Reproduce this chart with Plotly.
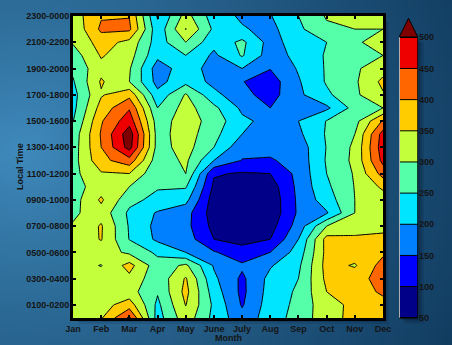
import base64, struct, zlib, math
import plotly.graph_objects as go

# ---------------- data ----------------
months = ["Jan", "Feb", "Mar", "Apr", "May", "June", "July", "Aug", "Sep", "Oct", "Nov", "Dec"]
hour_bins = ["%02d00-%02d00" % (h, (h + 1) % 24) for h in range(24)]
tick_hours = list(range(1, 24, 2))
tick_text = [hour_bins[h] for h in tick_hours]
levels = list(range(50, 501, 50))
cb_ticks = levels

# values per month, hours 0000-0100 ... 2300-0000
jan = [320, 320, 320, 320, 320, 320, 315, 305, 290, 278, 280, 285, 280, 275, 270, 248, 235, 232, 245, 260, 275, 305, 310, 325]
feb = [345, 330, 325, 320, 298, 325, 353, 355, 330, 358, 325, 345, 385, 400, 405, 395, 370, 345, 356, 335, 355, 372, 410, 395]
mar = [460, 375, 320, 338, 368, 290, 248, 245, 240, 265, 300, 350, 430, 520, 530, 480, 445, 385, 300, 305, 320, 335, 410, 398]
apr = [228, 238, 255, 265, 270, 240, 190, 185, 195, 235, 255, 258, 270, 280, 280, 275, 250, 215, 182, 175, 212, 225, 215, 195]
may = [330, 352, 365, 355, 310, 200, 175, 165, 170, 215, 255, 300, 310, 320, 325, 325, 320, 305, 235, 225, 250, 300, 352, 320]
jun = [235, 240, 225, 210, 195, 155, 100, 85, 75, 75, 90, 105, 200, 250, 265, 280, 262, 215, 185, 180, 190, 215, 240, 225]
jul = [168, 145, 138, 140, 158, 118, 85, 62, 55, 55, 60, 95, 148, 165, 200, 210, 190, 165, 152, 200, 255, 262, 205, 192]
aug = [225, 225, 220, 215, 195, 150, 100, 80, 65, 65, 75, 100, 145, 165, 180, 185, 150, 130, 125, 152, 175, 180, 185, 197]
sep = [270, 262, 258, 250, 240, 222, 200, 172, 158, 160, 163, 165, 168, 172, 190, 200, 195, 190, 195, 205, 215, 225, 240, 250]
oct_ = [330, 335, 350, 362, 368, 365, 368, 300, 195, 225, 240, 250, 255, 252, 255, 252, 190, 240, 255, 255, 255, 250, 290, 305]
nov = [365, 360, 370, 378, 345, 375, 360, 325, 300, 300, 302, 305, 312, 310, 300, 282, 268, 290, 292, 292, 285, 292, 300, 312]
dec = [370, 380, 410, 422, 420, 390, 368, 330, 310, 325, 360, 420, 465, 478, 470, 405, 300, 345, 362, 330, 300, 322, 300, 318]

columns = [jan, feb, mar, apr, may, jun, jul, aug, sep, oct_, nov, dec]
z = [list(row) for row in zip(*columns)]  # rows = hours, cols = months

band_colors = ["#000088", "#000088", "#0000ff", "#0080ff", "#00e5ff", "#55ffaa",
               "#c4ff3c", "#ffcc00", "#ff6600", "#ee0000", "#800000"]
colorscale = [[i / (len(band_colors) - 1), c] for i, c in enumerate(band_colors)]

W, H = 452, 345


def px_x(p):
    return p / W


def px_y(p):
    return 1 - p / H


# ---------------- background gradient ----------------
def make_png(w, h, fn):
    raw = bytearray()
    for j in range(h):
        raw.append(0)
        for i in range(w):
            raw.extend(fn(i, j))
    def chunk(tag, data):
        c = struct.pack('>I', len(data)) + tag + data
        return c + struct.pack('>I', zlib.crc32(tag + data) & 0xffffffff)
    png = (b'\x89PNG\r\n\x1a\n'
           + chunk(b'IHDR', struct.pack('>IIBBBBB', w, h, 8, 2, 0, 0, 0))
           + chunk(b'IDAT', zlib.compress(bytes(raw), 9))
           + chunk(b'IEND', b''))
    return 'data:image/png;base64,' + base64.b64encode(png).decode()


light = (64, 140, 190)
dark = (16, 58, 94)


def grad(i, j):
    x, y = i * 4, j * 4
    d = math.hypot(x - 20, (y - 150) * 1.1)
    t = min(1.0, d / 500.0) ** 0.85
    return bytes(int(light[k] + (dark[k] - light[k]) * t) for k in range(3))


bg_uri = make_png(113, 87, grad)

font_main = dict(family="Liberation Sans", size=9, color="#141414", weight="bold")

fig = go.Figure()

fig.add_trace(go.Contour(
    x=list(range(len(months))), y=list(range(24)), z=z,
    autocontour=False,
    contours=dict(start=levels[0], end=levels[-1], size=levels[1] - levels[0],
                  coloring="fill", showlines=True),
    colorscale=colorscale, line=dict(color="black", width=1, smoothing=0),
    showscale=False, hoverinfo="skip",
))

# colour bar drawn as a contour of the level range
fig.add_trace(go.Contour(
    x=[0, 1], y=[levels[0], levels[-1]],
    z=[[levels[0], levels[0]], [levels[-1], levels[-1]]],
    autocontour=False,
    contours=dict(start=levels[0], end=levels[-1], size=levels[1] - levels[0],
                  coloring="fill", showlines=True),
    colorscale=colorscale, line=dict(color="black", width=1, smoothing=0),
    showscale=False, hoverinfo="skip", xaxis="x2", yaxis="y2",
))

apex = levels[-1] + 30.5
shapes = []
# drop shadows
for k, op in [(6, 0.10), (4, 0.14), (2, 0.2)]:
    shapes.append(dict(type="rect", xref="paper", yref="paper", layer="below",
                       x0=px_x(73 + k), x1=px_x(383 + k), y0=px_y(318 + k), y1=px_y(16 + k),
                       fillcolor="rgba(0,10,30,%s)" % op, line=dict(width=0)))
    shapes.append(dict(type="rect", xref="paper", yref="paper", layer="below",
                       x0=px_x(399 + k), x1=px_x(418 + k), y0=px_y(318 + k), y1=px_y(37 + k),
                       fillcolor="rgba(0,10,30,%s)" % op, line=dict(width=0)))
shapes.append(dict(type="path", xref="x2", yref="y2",
                   path="M0,%s L1,%s L0.5,%s Z" % (levels[-1], levels[-1], apex),
                   fillcolor=band_colors[-1], line=dict(color="black", width=1)))
shapes.append(dict(type="rect", xref="x2", yref="y2", x0=0, x1=1, y0=levels[0], y1=levels[-1],
                   line=dict(color="black", width=1.5)))
shapes.append(dict(type="line", xref="x2", yref="y2", x0=0.02, x1=0.02, y0=levels[0], y1=levels[-1],
                   line=dict(color="rgba(220,220,220,0.8)", width=1.2)))

xaxis = dict(domain=[px_x(73), px_x(383)], range=[0, len(months) - 1], automargin=False,
             tickvals=list(range(len(months))), ticktext=months,
             ticks="inside", ticklen=3, tickwidth=2, tickcolor="black",
             showline=True, linewidth=3, linecolor="black", mirror="ticks",
             showgrid=False, zeroline=False, tickfont=font_main)
yaxis = dict(domain=[px_y(318), px_y(16)], range=[0, 23], automargin=False,
             tickvals=tick_hours, ticktext=tick_text,
             ticks="inside", ticklen=3, tickwidth=2, tickcolor="black",
             showline=True, linewidth=3, linecolor="black", mirror="ticks",
             showgrid=False, zeroline=False, tickfont=font_main)

fig.update_layout(
    template="none",
    width=W, height=H,
    margin=dict(l=0, r=0, t=0, b=0, pad=0, autoexpand=False),
    paper_bgcolor="#2a6a9a", plot_bgcolor="rgba(0,0,0,0)",
    font=font_main,
    showlegend=False,
    images=[dict(source=bg_uri, xref="paper", yref="paper", x=0, y=1, sizex=1, sizey=1,
                 xanchor="left", yanchor="top", sizing="stretch", layer="below")],
    xaxis=xaxis,
    yaxis=yaxis,
    xaxis2=dict(domain=[px_x(399), px_x(418)], range=[0, 1], visible=False, automargin=False),
    yaxis2=dict(domain=[px_y(319), px_y(18)], range=[48, apex + 0.5], anchor="x2", side="right",
                automargin=False, tickvals=cb_ticks, ticks="", showgrid=False, zeroline=False,
                showline=False, tickfont=font_main),
    shapes=shapes,
    annotations=[
        dict(text="Local Time", x=px_x(20), y=px_y(167), xref="paper", yref="paper",
             xanchor="center", yanchor="middle",
             showarrow=False, textangle=-90, font=font_main),
        dict(text="Month", x=px_x(228), y=px_y(337.5), xref="paper", yref="paper",
             xanchor="center", yanchor="middle",
             showarrow=False, font=font_main),
    ],
)

try:
    fig.update_xaxes(ticklabelstandoff=-3, selector=dict(anchor="y"))
except Exception:
    pass
try:
    fig.update_layout(yaxis_ticklabelstandoff=-1)
except Exception:
    pass

fig.write_html("out.html",
               config={"displayModeBar": False, "staticPlot": True},
               post_script="document.body.style.margin='0px';document.body.style.overflow='hidden';")
